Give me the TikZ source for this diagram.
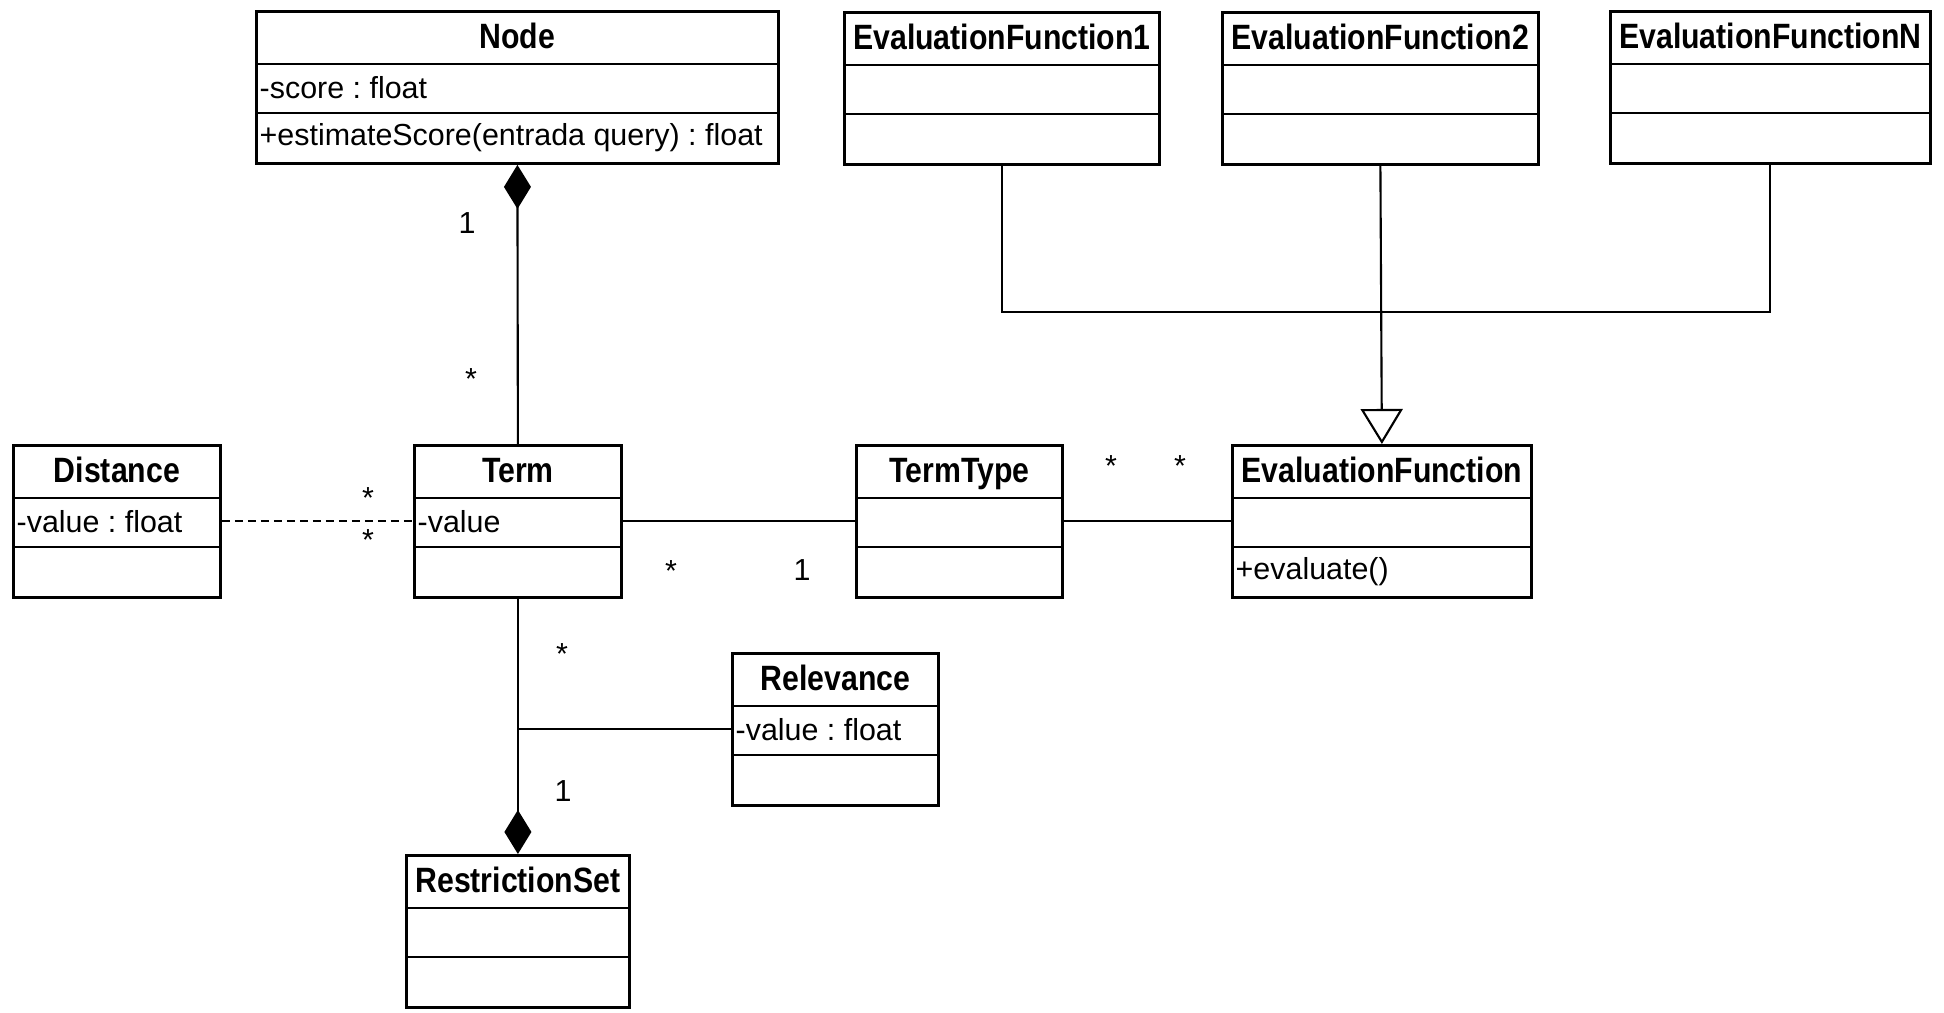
\documentclass[tikz,border=0pt]{standalone}
\usepackage{graphicx}
\usepackage{fontspec}
\setmainfont{Liberation Sans}
\usetikzlibrary{calc,arrows.meta}
\frenchspacing

% class box: name, x, y, width, title, attribute, operation
\newcommand{\umlclass}[7]{%
  \node[classbox,minimum width=#4*0.01cm] (#1) at (#2,#3) {};
  \draw[classline] ($(#1.north west)+(0,54)$) -- ($(#1.north east)+(0,54)$);
  \draw[classline] ($(#1.north west)+(0,103)$) -- ($(#1.north east)+(0,103)$);
  \node[anchor=base,inner sep=0pt,font=\bfseries] (#1-title) at ($(#1.north)+(0,39)$) {\scalebox{0.86}[1]{#5}};
  \node[anchor=west,inner sep=0pt] (#1-attr) at ($(#1.north west)+(4,78)$) {#6};
  \node[anchor=west,inner sep=0pt] (#1-op) at ($(#1.north west)+(4,128)$) {#7};
}

\begin{document}
\begin{tikzpicture}[x=0.01cm,y=-0.01cm,font=\fontsize{8.65}{10}\selectfont,
  classbox/.style={draw,line width=0.8pt,anchor=north west,minimum height=1.52cm,inner sep=0pt},
  classline/.style={line width=0.8pt},
  assoc/.style={line width=0.6pt},
  mult/.style={inner sep=0pt}]
\useasboundingbox (0,0) rectangle (1944,1013);

\umlclass{node}{255}{10}{522}{Node}{-score : float}{+estimateScore(entrada query) : float}
\umlclass{evalfa}{843}{11}{315}{EvaluationFunction1}{}{}
\umlclass{evalfb}{1221}{11}{316}{EvaluationFunction2}{}{}
\umlclass{evalfn}{1609}{10}{320}{EvaluationFunctionN}{}{}
\umlclass{distance}{12}{444}{207}{Distance}{-value : float}{}
\umlclass{term}{413}{444}{207}{Term}{-value}{}
\umlclass{termtype}{855}{444}{206}{TermType}{}{}
\umlclass{evalf}{1231}{444}{299}{EvaluationFunction}{}{+evaluate()}
\umlclass{relevance}{731}{652}{206}{Relevance}{-value : float}{}
\umlclass{restrset}{405}{854}{223}{RestrictionSet}{}{}

% generalisation
\coordinate (join) at (evalfb.south |- 0,312);
\draw[assoc] (evalfa.south) |- (join) -| (evalfn.south);
\draw[assoc,-{Triangle[open,length=0.35cm,width=0.42cm]}] (evalfb.south) -- (evalf.north);

% compositions
\draw[assoc,-{Diamond[length=0.44cm,width=0.27cm]}] (term.north) -- (node.south);
\draw[assoc,-{Diamond[length=0.44cm,width=0.27cm]}] (term.south) -- (restrset.north);

% associations
\draw[assoc,dash pattern=on 0.08cm off 0.05cm] (distance.east) -- (term.west);
\draw[assoc] (term.east) -- (termtype.west);
\draw[assoc] (termtype.east) -- (evalf.west);
\coordinate (relv) at (term.south |- relevance.west);
\draw[assoc] (relv) -- (relevance.west);

% multiplicities
\node[mult] (m1) at (467,223) {1};
\node[mult] (m2) at (471,379) {*};
\node[mult] (m3) at (368,498) {*};
\node[mult] (m4) at (368,540) {*};
\node[mult] (m5) at (671,571) {*};
\node[mult] (m6) at (802,570) {1};
\node[mult] (m7) at (1111,466) {*};
\node[mult] (m8) at (1180,466) {*};
\node[mult] (m9) at (562,654) {*};
\node[mult] (m10) at (563,791) {1};

\end{tikzpicture}
\end{document}
